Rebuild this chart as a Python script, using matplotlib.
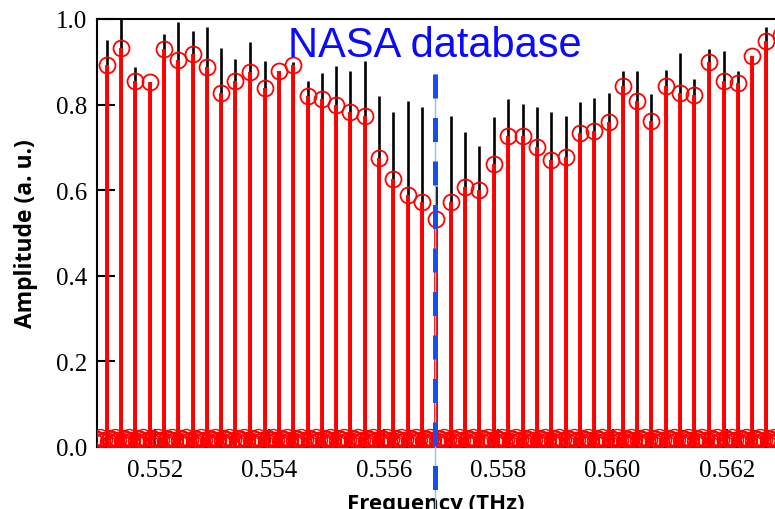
import numpy as np
import matplotlib.pyplot as plt

# line frequencies (THz)
freqs = [0.55116, 0.55141, 0.55166, 0.55191, 0.55216, 0.55241, 0.55266, 0.55291,
         0.55316, 0.55341, 0.55367, 0.55392, 0.55417, 0.55442, 0.55467, 0.55492,
         0.55517, 0.55542, 0.55567, 0.55592, 0.55617, 0.55642, 0.55667, 0.55692,
         0.55717, 0.55742, 0.55767, 0.55793, 0.55818, 0.55843, 0.55868, 0.55893,
         0.55918, 0.55943, 0.55968, 0.55993, 0.56018, 0.56043, 0.56068, 0.56093,
         0.56118, 0.56143, 0.56168, 0.56194, 0.56219, 0.56244, 0.56269, 0.56294]

# red (measured) peak amplitudes
red_amp = [0.893, 0.932, 0.856, 0.853, 0.931, 0.905, 0.918, 0.889,
           0.827, 0.855, 0.877, 0.839, 0.879, 0.893, 0.820, 0.813,
           0.799, 0.783, 0.773, 0.675, 0.626, 0.589, 0.572, 0.533,
           0.572, 0.607, 0.600, 0.661, 0.727, 0.727, 0.701, 0.671,
           0.678, 0.734, 0.738, 0.759, 0.843, 0.808, 0.762, 0.843,
           0.827, 0.822, 0.900, 0.855, 0.850, 0.914, 0.949, 0.963]

# black (NASA database) peak amplitudes
black_amp = [0.950, 1.000, 0.889, 0.853, 0.965, 0.992, 0.973, 0.982,
             0.932, 0.907, 0.946, 0.902, 0.879, 0.900, 0.855, 0.874,
             0.890, 0.879, 0.902, 0.820, 0.783, 0.808, 0.794, 0.610,
             0.773, 0.736, 0.703, 0.771, 0.813, 0.801, 0.794, 0.783,
             0.773, 0.806, 0.815, 0.827, 0.879, 0.879, 0.825, 0.881,
             0.921, 0.860, 0.930, 0.925, 0.879, 0.914, 0.981, 0.990]

# baseline samples between lines: offset from each line (THz) and level
base_offsets = [-0.00023, -0.00020, -0.00017, -0.00014, -0.00011, -0.00008,
                -0.00005, 0.00003, 0.00006]
base_levels = [0.014, 0.020, 0.009, 0.017, 0.024, 0.011, 0.016, 0.008, 0.019]

nasa_freq = 0.5569

serif = ['Liberation Serif', 'FreeSerif', 'DejaVu Serif']

fig = plt.figure(figsize=(7.75, 5.10), dpi=100)
ax = fig.add_axes([97 / 775, 1 - 448 / 510, 1 - 97 / 775, 428 / 510])

f = np.array(freqs)
ax.vlines(f, 0, black_amp, color='black', lw=1.9, zorder=2)
ax.vlines(f, 0, red_amp, color='#ff0000', lw=2.8, zorder=2.2)
ax.plot(f, red_amp, 'o', ms=11.5, mfc='none', mec='#ff0000', mew=1.3, zorder=2.3)

bx = np.concatenate([f + o for o in base_offsets])
by = np.concatenate([np.full(len(f), l) for l in base_levels])
ax.plot(bx, by, 'o', ms=11.5, mfc='none', mec='#ff0000', mew=1.0, zorder=3)

# NASA line marker
ax.plot([nasa_freq, nasa_freq], [0.872, -0.16], color='#9dbbe6', lw=1.0,
        clip_on=False, zorder=4)
ax.plot([nasa_freq, nasa_freq], [0.872, -0.16], color='#1450f0', lw=3.6,
        dashes=(4.8, 3.9), clip_on=False, zorder=4)
ax.text(nasa_freq, 0.913, 'NASA database', color='#0a0aff', fontsize=30,
        family='Liberation Sans', ha='center', va='baseline')

ax.set_xlim(0.55099, 0.56284)
ax.set_ylim(0, 1.0)
ax.set_xticks([0.552, 0.554, 0.556, 0.558, 0.560, 0.562])
ax.set_xticklabels(['0.552', '0.554', '0.556', '0.558', '0.560', '0.562'],
                   family=serif, fontsize=18)
ax.set_yticks([0.0, 0.2, 0.4, 0.6, 0.8, 1.0])
ax.set_yticklabels(['0.0', '0.2', '0.4', '0.6', '0.8', '1.0'],
                   family=serif, fontsize=18)
ax.tick_params(direction='in', length=13, width=1.5, pad=7)
ax.tick_params(axis='x', pad=9)
ax.spines['right'].set_visible(False)
for s in ['left', 'top', 'bottom']:
    ax.spines[s].set_linewidth(1.5)

ax.set_ylabel('Amplitude (a. u.)', family='Open Sans', fontweight='bold',
              fontsize=16.5, labelpad=13)
ax.set_xlabel('Frequency (THz)', family='Open Sans', fontweight='bold',
              fontsize=16, labelpad=8)

fig.savefig('out.png', dpi=100)
